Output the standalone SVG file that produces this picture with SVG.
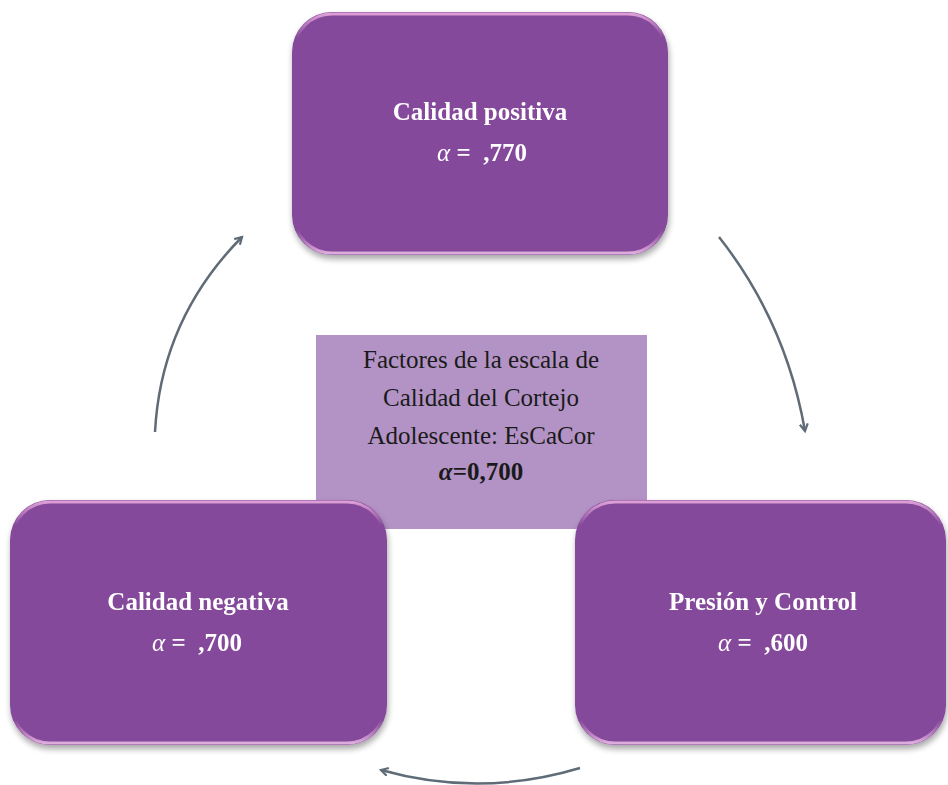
<svg xmlns="http://www.w3.org/2000/svg" width="948" height="785" viewBox="0 0 948 785">
<defs>
<style>
.box{fill:#84489a;}
.hl{fill:none;stroke:url(#hlg);stroke-width:3;}
.lbl{font-family:"Liberation Serif","DejaVu Serif",serif;font-weight:bold;font-size:25px;fill:#ffffff;text-anchor:middle;}
.alpha{font-family:"Liberation Serif","DejaVu Serif",serif;font-size:25px;fill:#ffffff;text-anchor:middle;white-space:pre;}
.ctr{font-family:"Liberation Serif","DejaVu Serif",serif;font-size:25px;fill:#1a1a1a;text-anchor:middle;}
.arr{fill:none;stroke:#5f6b76;stroke-width:2.5;marker-end:url(#ah);}
</style>
<linearGradient id="hlg" x1="0" y1="0" x2="0" y2="1">
<stop offset="0" stop-color="#e6a8dc" stop-opacity="0.9"/>
<stop offset="0.1" stop-color="#e6a8dc" stop-opacity="0"/>
<stop offset="0.9" stop-color="#e6a8dc" stop-opacity="0"/>
<stop offset="1" stop-color="#f3c6ec" stop-opacity="0.8"/>
</linearGradient>
<filter id="sh" x="-10%" y="-10%" width="120%" height="125%">
<feGaussianBlur in="SourceAlpha" stdDeviation="3"/>
<feOffset dx="1" dy="4" result="b"/>
<feComponentTransfer><feFuncA type="linear" slope="0.35"/></feComponentTransfer>
<feMerge><feMergeNode/><feMergeNode in="SourceGraphic"/></feMerge>
</filter>
<marker id="ah" markerWidth="12" markerHeight="12" refX="8" refY="5" orient="auto" markerUnits="userSpaceOnUse">
<path d="M1,1 L8,5 L1,9" fill="none" stroke="#5f6b76" stroke-width="2.2"/>
</marker>
</defs>
<rect width="948" height="785" fill="#ffffff"/>

<g id="center">
<rect x="316" y="335" width="331" height="194" fill="#b393c5"/>
<text class="ctr" x="481" y="368">Factores de la escala de</text>
<text class="ctr" x="481" y="406">Calidad del Cortejo</text>
<text class="ctr" x="481" y="444">Adolescente: EsCaCor</text>
<text class="ctr" x="481" y="480" font-weight="bold"><tspan font-style="italic">α</tspan>=0,700</text>
</g>

<g id="connectors">
<path class="arr" d="M155,432 Q161,319 242,237"/>
<path class="arr" d="M719,237 Q786,322 805,431"/>
<path class="arr" d="M580,768 Q480,798 381,770"/>
</g>

<g id="top" filter="url(#sh)">
<rect class="box" x="292" y="12" width="376" height="243" rx="40"/>
<rect class="hl" x="294" y="14" width="372" height="239" rx="38"/>
<text class="lbl" x="480" y="120">Calidad positiva</text>
<text class="alpha" x="482" y="161" xml:space="preserve"><tspan font-style="italic">α</tspan><tspan font-weight="bold"> =  ,770</tspan></text>
</g>

<g id="left" filter="url(#sh)">
<rect class="box" x="10" y="500" width="377" height="245" rx="40"/>
<rect class="hl" x="12" y="502" width="373" height="241" rx="38"/>
<text class="lbl" x="198" y="610">Calidad negativa</text>
<text class="alpha" x="197" y="651" xml:space="preserve"><tspan font-style="italic">α</tspan><tspan font-weight="bold"> =  ,700</tspan></text>
</g>

<g id="right" filter="url(#sh)">
<rect class="box" x="575" y="500" width="371" height="245" rx="40"/>
<rect class="hl" x="577" y="502" width="367" height="241" rx="38"/>
<text class="lbl" x="763" y="610">Presión y Control</text>
<text class="alpha" x="763" y="651" xml:space="preserve"><tspan font-style="italic">α</tspan><tspan font-weight="bold"> =  ,600</tspan></text>
</g>
</svg>
